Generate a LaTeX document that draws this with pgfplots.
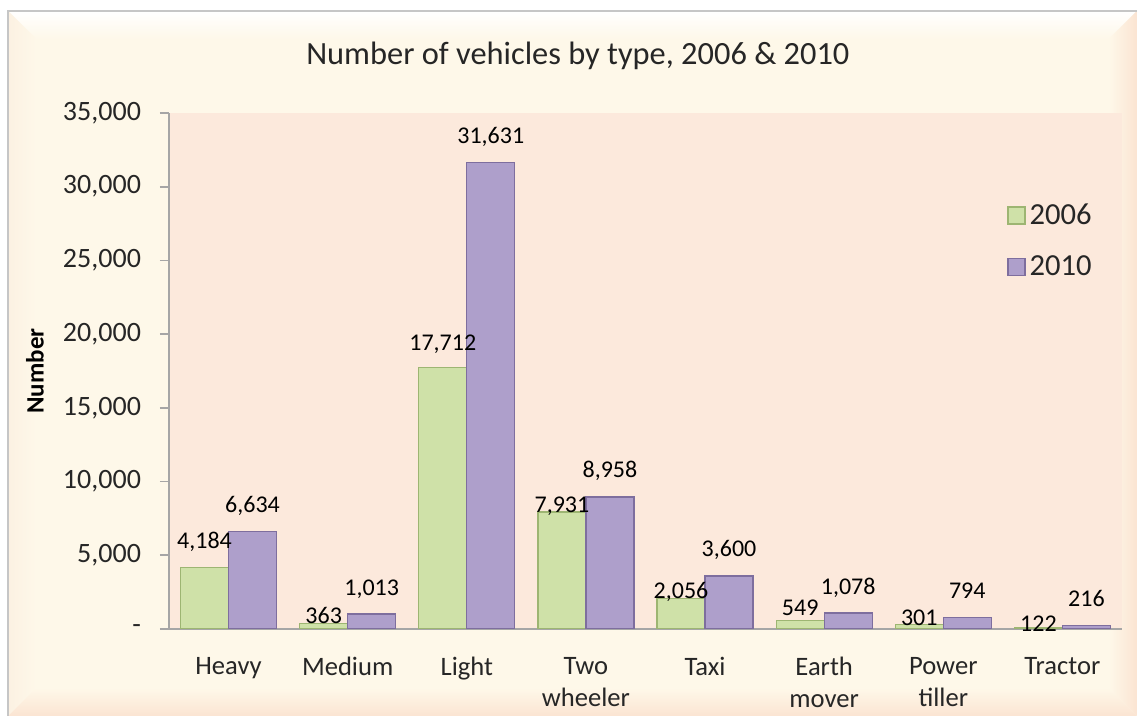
\documentclass[border=0pt]{standalone}
\usepackage{fontspec}
\setmainfont{Carlito}
\usepackage{pgfplots}
\usepackage{pgfplotstable}
\pgfplotsset{compat=1.18}
\definecolor{cream}{HTML}{FEF8E9}
\definecolor{peachband}{HTML}{FBE4D2}
\definecolor{leftband}{HTML}{FCF1E2}
\definecolor{plotbg}{HTML}{FCE9DC}
\definecolor{gbar}{HTML}{CFE1A8}
\definecolor{gedge}{HTML}{9DB572}
\definecolor{pbar}{HTML}{AE9FCB}
\definecolor{pedge}{HTML}{7E6E9E}
\definecolor{axgray}{HTML}{A6A6A6}
\pgfplotstableread{
x y off
0 4184 9.5
1 363 0
2 17712 8.5
3 7931 0
4 2056 0
5 549 2.5
6 301 -0.5
7 122 -2
}\tblA
\pgfplotstableread{
x y off
0 6634 9.5
1 1013 9.5
2 31631 9.5
3 8958 9.5
4 3600 9.5
5 1078 9.5
6 794 9.5
7 216 9.5
}\tblB
\begin{document}
\begin{tikzpicture}
\fill[white] (-84.5pt,-43.5pt) rectangle (484pt,314.5pt);
\fill[cream] (-80.5pt,-43.5pt) rectangle (484pt,309pt);
\shade[top color=white, bottom color=cream] (-80.5pt,309pt) -- (484pt,309pt) -- (470pt,295pt) -- (-66.5pt,295pt) -- cycle;
\shade[left color=cream, right color=peachband] (484pt,309pt) -- (484pt,-43.5pt) -- (470pt,-29.5pt) -- (470pt,295pt) -- cycle;
\shade[top color=cream, bottom color=peachband] (-80.5pt,-43.5pt) -- (484pt,-43.5pt) -- (470pt,-29.5pt) -- (-66.5pt,-29.5pt) -- cycle;
\shade[left color=leftband, right color=cream] (-80.5pt,309pt) -- (-66.5pt,295pt) -- (-66.5pt,-29.5pt) -- (-80.5pt,-43.5pt) -- cycle;
\draw[gray!45, line width=0.8pt] (-80.5pt,-43.5pt) -- (-80.5pt,309pt) -- (484pt,309pt);
\begin{axis}[
  at={(0pt,0pt)}, anchor=south west,
  scale only axis, width=476.5pt, height=258pt,
  axis background/.style={fill=plotbg},
  ybar=0pt, bar width=24pt,
  xmin=-0.5, xmax=7.5, ymin=0, ymax=35000,
  scaled y ticks=false,
  axis x line*=bottom, axis y line*=left,
  axis line style={axgray, line width=0.8pt, -},
  xtick={0,...,7},
  xticklabels={Heavy,Medium,Light,Two\\wheeler,Taxi,Earth\\mover,Power\\tiller,Tractor},
  xticklabel style={align=center, font=\fontsize{13.3}{16}\selectfont, text=black!85, yshift=-6pt},
  x tick style={draw=none},
  ytick={0,5000,10000,15000,20000,25000,30000,35000},
  yticklabels={{-\hspace{12.5pt}},{5,000},{10,000},{15,000},{20,000},{25,000},{30,000},{35,000}},
  yticklabel style={font=\fontsize{14}{16}\selectfont, text=black!85, xshift=-6pt},
  y tick style={axgray, line width=0.8pt},
  tick align=outside, major tick length=4.5pt,
  ylabel={\textbf{Number}},
  ylabel style={at={(axis description cs:-0.1406,0.5)}, anchor=center, font=\fontsize{12.5}{14}\selectfont},
  title={Number of vehicles by type, 2006 \& 2010},
  title style={at={(axis description cs:0.429,1.087)}, anchor=center, font=\fontsize{16.2}{19}\selectfont, text=black!85},
  /pgf/number format/.cd, 1000 sep={,}, assume math mode=true, /pgfplots/.cd,
  legend style={at={(axis description cs:0.873,0.752)}, anchor=west, draw=none, fill=none,
    font=\fontsize{15.3}{18}\selectfont, row sep=10pt, text=black!85},
  legend cell align=left,
  legend image code/.code={\draw[#1] (0pt,-4.25pt) rectangle (8.5pt,4.25pt);},
]
\addlegendimage{fill=gbar, draw=gedge, line width=0.6pt}
\addlegendentry{2006}
\addlegendimage{fill=pbar, draw=pedge, line width=0.6pt}
\addlegendentry{2010}
\addplot[forget plot, bar shift=-12pt, fill=gbar, draw=gedge, line width=0.6pt,
  visualization depends on={\thisrow{off}\as\myoff},
  nodes near coords,
  nodes near coords style={font=\fontsize{12}{14}\selectfont, text=black, anchor=base, yshift=\myoff*1pt}]
  table[x=x, y=y] {\tblA};
\addplot[forget plot, bar shift=12pt, fill=pbar, draw=pedge, line width=0.6pt,
  visualization depends on={\thisrow{off}\as\myoff},
  nodes near coords,
  nodes near coords style={font=\fontsize{12}{14}\selectfont, text=black, anchor=base, yshift=\myoff*1pt}]
  table[x=x, y=y] {\tblB};
\end{axis}
\pgfresetboundingbox
\useasboundingbox (-84.5pt,-43.5pt) rectangle (484pt,314.5pt);
\end{tikzpicture}
\end{document}
